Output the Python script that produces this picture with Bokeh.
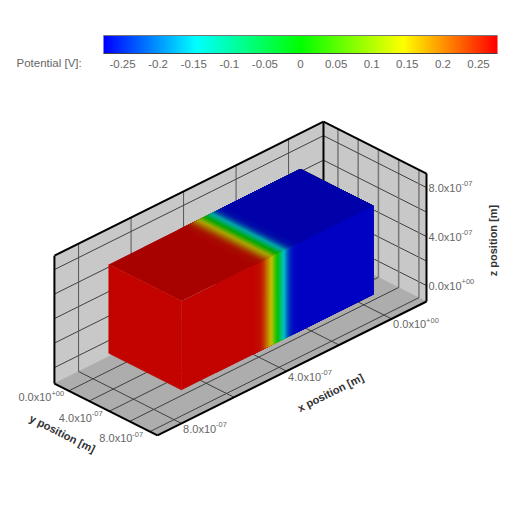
from bokeh.plotting import figure
from bokeh.models import Range1d, LinearColorMapper
from bokeh.core.properties import value
from bokeh.embed import file_html
from bokeh.resources import INLINE
import numpy as np

# ---- data ----
cbar_ticks = [-0.25, -0.2, -0.15, -0.1, -0.05, 0, 0.05, 0.1, 0.15, 0.2, 0.25]
cbar_labels = ["-0.25", "-0.2", "-0.15", "-0.1", "-0.05", "0", "0.05", "0.1", "0.15", "0.2", "0.25"]
cbar_low, cbar_high = -0.2767, 0.2767
cmap_pos = [-0.2767, -0.147, 0.0, 0.145, 0.2767]
cmap_rgb = [(0, 0, 255), (0, 255, 255), (0, 255, 0), (255, 255, 0), (255, 0, 0)]

grid_ticks = [0, 2, 4, 6, 8]          # units of 1e-7 m
label_ticks = [0, 4, 8]
label_main = ["0.0x10", "4.0x10", "8.0x10"]
label_sup = ["+00", "-07", "-07"]
x_lim = [-1.33, 8.92]
y_lim = [-1.43, 8.75]
z_lim = [-1.3, 9.14]
box_x = [0.1, 7.4]
box_y = [0.0, 7.2]
box_z = [0.15, 7.4]

# potential profile along x (distance from the low-x face of the box, 1e-7 m)
prof_x = [7.30, 4.70, 4.65, 4.60, 4.55, 4.50, 4.45, 4.40, 4.35, 4.30, 4.25, 4.20, 4.15, 4.10,
          4.05, 4.00, 3.95, 3.90, 3.85, 3.80, 3.75, 3.70, 3.65, 3.60, 3.55, 3.50, 3.45, 3.40,
          3.35, 3.30, 3.25, 3.20, 3.15, 3.10, 3.05, 3.00, 2.95, 2.90, 2.85, 2.80, 0.00]
prof_v = [0.275, 0.275, 0.275, 0.274, 0.273, 0.272, 0.271, 0.269, 0.267, 0.263, 0.256, 0.245, 0.232, 0.215,
          0.197, 0.180, 0.165, 0.150, 0.125, 0.090, 0.060, 0.030, -0.005, -0.035, -0.065, -0.095, -0.125, -0.150,
          -0.175, -0.20, -0.22, -0.24, -0.252, -0.262, -0.267, -0.27, -0.272, -0.274, -0.275, -0.276, -0.276]

# ---- helpers ----
ORG = (426.0, 301.0)
EX = (-26.25, 13.07)
EY = (10.12, 5.1)
EZ = -12.25

def proj(X, Y, Z):
    dx, dy, dz = X - x_lim[0], Y - y_lim[1], Z - z_lim[0]
    return ORG[0] + EX[0] * dx + EY[0] * dy, ORG[1] + EX[1] * dx + EY[1] * dy + EZ * dz

def rainbow(v, shade):
    rgb = [np.interp(v, cmap_pos, [c[i] for c in cmap_rgb]) * shade for i in range(3)]
    return "#%02x%02x%02x" % tuple(int(round(c)) for c in rgb)

p = figure(width=504, height=504, x_range=Range1d(0, 504), y_range=Range1d(504, 0),
           output_backend="svg", toolbar_location=None, min_border=0,
           outline_line_color=None, background_fill_color="white", border_fill_color="white")
p.xaxis.visible = False
p.yaxis.visible = False
p.grid.visible = False

def poly(corners, color, stroke=True):
    pts = [proj(*c) for c in corners]
    p.patch([a for a, b in pts], [b for a, b in pts], fill_color=color, fill_alpha=1.0,
            line_color=color if stroke else None, line_alpha=1.0, line_width=0.6)

def seg(a, b, color, width):
    pa, pb = proj(*a), proj(*b)
    p.line([pa[0], pb[0]], [pa[1], pb[1]], line_color=color, line_width=width)

x0, x1 = x_lim
y0, y1 = y_lim
z0, z1 = z_lim
WALL, FLOOR = "#c8c8c8", "#adadad"
poly([(x1, y0, z0), (x0, y0, z0), (x0, y0, z1), (x1, y0, z1)], WALL)
poly([(x0, y0, z0), (x0, y1, z0), (x0, y1, z1), (x0, y0, z1)], WALL)
poly([(x1, y0, z0), (x0, y0, z0), (x0, y1, z0), (x1, y1, z0)], FLOOR)

DARK, MID = "#404040", "#777777"
for t in grid_ticks:
    seg((t, y0, z0), (t, y0, z1), "#555555", 1)
    seg((t, y0, z0), (t, y1, z0), DARK, 1)
    seg((x1, y0, t), (x0, y0, t), DARK, 1)
    seg((x0, y0, t), (x0, y1, t), DARK, 1)
    seg((x0, t, z0), (x0, t, z1), MID, 1.5)
    seg((x0, t, z0), (x1, t, z0), DARK, 1)

# bounding edges (under the box)
for a, b in [((x1, y0, z1), (x0, y0, z1)), ((x0, y0, z1), (x0, y1, z1)), ((x0, y1, z1), (x0, y1, z0)),
             ((x0, y1, z0), (x1, y1, z0)), ((x1, y1, z0), (x1, y0, z0)), ((x1, y0, z0), (x1, y0, z1)),
             ((x0, y0, z0), (x0, y0, z1))]:
    seg(a, b, "black", 2)

# box faces: painter's order, each band runs down to the low-x face so no seams show
TOP_SHADE, SIDE_SHADE = 0.66, 0.76
bx0, bx1 = box_x
by0, by1 = box_y
bz0, bz1 = box_z
for i, v in enumerate(prof_v):
    hi = prof_x[i] if i == 0 else (prof_x[i - 1] + prof_x[i]) / 2
    b = bx0 + hi
    poly([(bx0, by1, bz0), (b, by1, bz0), (b, by1, bz1), (bx0, by1, bz1)], rainbow(v, SIDE_SHADE), stroke=False)
    poly([(bx0, by0, bz1), (b, by0, bz1), (b, by1, bz1), (bx0, by1, bz1)], rainbow(v, TOP_SHADE), stroke=False)
# the high-x face, drawn after the first bands with a stroke that closes the corner seam
poly([(bx1, by0, bz0), (bx1, by1, bz0), (bx1, by1, bz1), (bx1, by0, bz1)], rainbow(prof_v[0], SIDE_SHADE))

# tick labels
FONT = value("Liberation Sans")
TICK = "#666666"
def tick_label(px, py, main, sup, align="left"):
    w = 33
    sw = 11
    left = px if align == "left" else px - w - sw
    p.text([left], [py], text=[main], text_font=FONT, text_font_size="11px", text_color=TICK,
           text_align="left", text_baseline="middle")
    p.text([left + w], [py - 4], text=[sup], text_font=FONT, text_font_size="7.5px", text_color=TICK,
           text_align="left", text_baseline="middle")

for t, m, s in zip(label_ticks, label_main, label_sup):
    a = proj(t, y1, z0)
    tick_label(a[0] + 1.5, a[1] + 5.5, m, s)
    a = proj(x1, t, z0)
    tick_label(a[0] - 6.5, a[1] + 6.5, m, s, "right")
    a = proj(x0, y1, t)
    tick_label(a[0] + 2, a[1], m, s)

TITLE = "#333333"
p.text([330], [392], text=["x position [m]"], angle=[np.radians(26.5)], text_font=FONT, text_font_size="11px",
       text_font_style="bold", text_color=TITLE, text_align="center", text_baseline="middle")
p.text([62], [433], text=["y position [m]"], angle=[np.radians(-26.5)], text_font=FONT, text_font_size="11px",
       text_font_style="bold", text_color=TITLE, text_align="center", text_baseline="middle")
p.text([492], [240], text=["z position [m]"], angle=[np.radians(90)], text_font=FONT, text_font_size="11px",
       text_font_style="bold", text_color=TITLE, text_align="center", text_baseline="middle")

# colour bar
levels = np.linspace(cbar_low, cbar_high, 256)
palette = [rainbow(v, 1.0) for v in levels]
mapper = LinearColorMapper(palette=palette, low=cbar_low, high=cbar_high)
CB_L, CB_R, CB_T, CB_B = 103, 497, 35, 53
p.image(image=[levels[None, :]], x=CB_L, y=CB_T, dw=CB_R - CB_L, dh=CB_B - CB_T, color_mapper=mapper)
p.line([CB_L, CB_R], [CB_T, CB_T], line_color="#777777", line_width=1)
p.line([CB_L, CB_R], [CB_B, CB_B], line_color="#444444", line_width=1)
px_per_v = (CB_R - CB_L) / (cbar_high - cbar_low)
xs = [CB_L + (t - cbar_low) * px_per_v for t in cbar_ticks]
p.text(xs, [63] * len(xs), text=cbar_labels, text_font=FONT, text_font_size="11.5px", text_color=TICK,
       text_align="center", text_baseline="middle")
p.text([16], [62.5], text=["Potential [V]:"], text_font=FONT, text_font_size="11.5px", text_color=TICK,
       text_align="left", text_baseline="middle")

open("out.html", "w").write(file_html(p, INLINE))
